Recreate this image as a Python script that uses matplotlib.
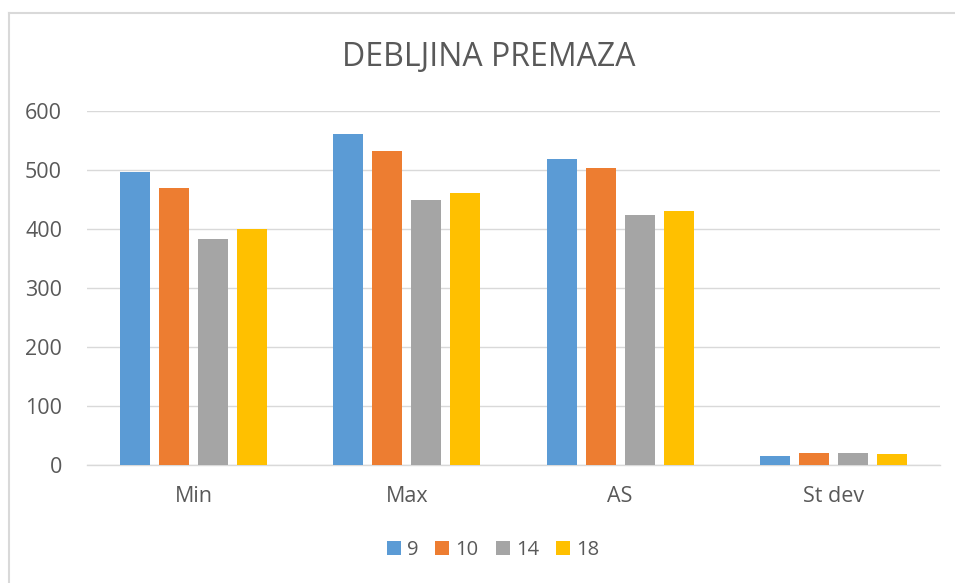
import matplotlib
matplotlib.use("Agg")
import matplotlib.pyplot as plt
import numpy as np
from matplotlib.lines import Line2D

categories = ["Min", "Max", "AS", "St dev"]
series_names = ["9", "10", "14", "18"]
s9 = [496, 561, 518, 16]
s10 = [470, 533, 504, 19.5]
s14 = [383, 449, 423, 21]
s18 = [400, 461, 430, 18]
series = [s9, s10, s14, s18]
colors = ["#5B9BD5", "#ED7D31", "#A5A5A5", "#FFC000"]
yticks = [0, 100, 200, 300, 400, 500, 600]

plt.rcParams['font.family'] = ['Open Sans', 'DejaVu Sans']
fig = plt.figure(figsize=(9.55, 5.83), dpi=100)
ax = fig.add_axes([87/955, 118/583, 853/955, 354/583])

x = np.arange(len(categories))
step = 39/213
width = 30/213
for i, (vals, c, name) in enumerate(zip(series, colors, series_names)):
    ax.bar(x + (i - 1.5)*step, vals, width=width, color=c, label=name, zorder=3)

ax.set_xlim(-0.5, 3.5)
ax.set_ylim(0, 600)
ax.set_yticks(yticks)
ax.set_xticks(x)
ax.set_xticklabels(categories)
ax.yaxis.grid(True, color="#D9D9D9", linewidth=1, zorder=0)
for s in ["top", "right", "left"]:
    ax.spines[s].set_visible(False)
ax.spines["bottom"].set_color("#D9D9D9")
ax.spines["bottom"].set_linewidth(1)
ax.tick_params(axis="both", length=0, colors="#595959", labelsize=15.5)
ax.tick_params(axis="y", pad=18)
ax.tick_params(axis="x", pad=15)

fig.text(489/955, 1 - 57/583, "DEBLJINA PREMAZA", ha="center", va="center",
         fontsize=23, color="#595959")

leg = fig.legend(loc="center", bbox_to_anchor=(493/955, 1 - 550/583), ncol=4,
                 frameon=False, fontsize=14.5, handlelength=0.7, handleheight=0.7,
                 handletextpad=0.3, columnspacing=0.85, labelcolor="#595959",
                 borderpad=0.2)

# chart border
fig.add_artist(Line2D([8.5/955, 8.5/955], [0, 1 - 12.5/583], transform=fig.transFigure,
                      color="#D9D9D9", linewidth=1.5))
fig.add_artist(Line2D([8.5/955, 1], [1 - 12.5/583, 1 - 12.5/583], transform=fig.transFigure,
                      color="#D9D9D9", linewidth=1.5))

fig.savefig("out.png", dpi=100)
